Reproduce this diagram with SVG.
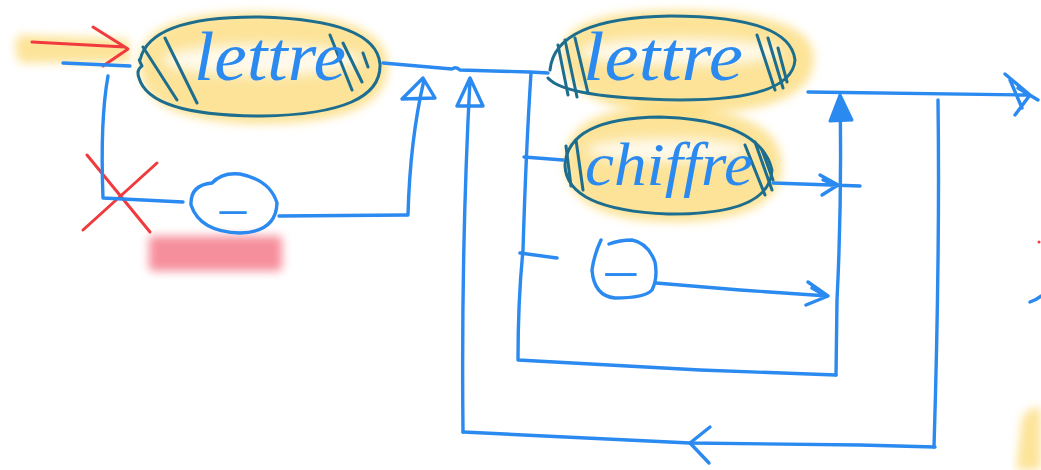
<svg xmlns="http://www.w3.org/2000/svg" width="1041" height="470" viewBox="0 0 1041 470">
<style>
.ln{fill:none;stroke:#2b8af0;stroke-width:3.4;stroke-linecap:round;stroke-linejoin:round}
.ol{fill:none;stroke:#1d6d8e;stroke-width:3;stroke-linecap:round;stroke-linejoin:round}
.red{fill:none;stroke:#f03a3e;stroke-width:3;stroke-linecap:round;stroke-linejoin:round}
.hl{fill:#fbd35a;opacity:0.62;filter:url(#blur)}
.hw{fill:#ffffff;opacity:0.8;filter:url(#blur2)}
.lbl{font-family:"Liberation Serif",serif;font-style:italic;fill:#2b8af0}
.us{font-family:"Liberation Sans",sans-serif;fill:#2b8af0}
</style>
<defs>
<filter id="blur" x="-20%" y="-30%" width="140%" height="160%"><feGaussianBlur stdDeviation="5"/></filter>
<filter id="blur2" x="-20%" y="-80%" width="140%" height="260%"><feGaussianBlur stdDeviation="6"/></filter>
</defs>

<g id="annotations">
<path d="M18,35 L128,39 L130,62 L20,63 Q12,50 18,35 Z" class="hl"/>
<rect x="149" y="236" width="133" height="35" rx="4" fill="#f47c8a" opacity="0.85" filter="url(#blur)"/>
<path d="M1016,470 L1022,418 Q1030,405 1041,408 L1041,470 Z" class="hl"/>
<path class="red" d="M32,42 L125,47 M93,27 L128,49 L103,66"/>
<path class="red" d="M87,155 L150,232 M157,163 L83,230"/>
<circle cx="1039" cy="242" r="1.5" fill="#f03a3e"/>
<path class="ln" d="M1030,302 Q1036,300 1041,296"/>
</g>

<g id="node-lettre-1">
<path d="M140,66 Q135,12 258,12 Q390,14 388,68 Q386,124 258,124 Q140,122 140,66 Z" class="hl"/>
<ellipse cx="262" cy="60" rx="100" ry="16" class="hw"/>
<path class="ol" d="M140,60 Q150,16 260,17 Q376,20 380,64 Q382,114 262,116 Q150,116 139,78 Q136,70 142,66 Q138,58 140,60"/>
<path class="ol" d="M143,47 L177,100 M165,38 L197,103 M330,35 L352,90 M343,43 L362,82 M363,53 L368,67"/>
<text class="lbl" x="194" y="80" font-size="70" textLength="152" lengthAdjust="spacingAndGlyphs">lettre</text>
</g>

<g id="node-underscore-1">
<path class="ln" d="M212,183 Q222,172 240,174 Q270,180 277,203 Q276,232 240,233 Q200,232 191,205 Q190,185 212,183"/>
<text class="us" x="220" y="205" font-size="44" textLength="26" lengthAdjust="spacingAndGlyphs">_</text>
</g>

<g id="node-lettre-2">
<path d="M562,55 Q560,10 680,10 Q817,12 814,60 Q812,114 682,114 Q565,112 562,55 Z" class="hl"/>
<ellipse cx="680" cy="52" rx="102" ry="14" class="hw"/>
<path class="ol" d="M550,70 Q555,18 670,16 Q790,16 795,60 Q792,100 680,100 Q565,98 548,78"/>
<path class="ol" d="M558,45 L568,95 M565,40 L577,97 M575,38 L588,93 M757,35 L775,90 M768,38 L783,88 M778,48 L787,82"/>
<text class="lbl" x="583" y="80" font-size="70" textLength="160" lengthAdjust="spacingAndGlyphs">lettre</text>
</g>

<g id="node-chiffre">
<path d="M565,165 Q563,106 668,106 Q784,110 782,168 Q780,222 670,222 Q568,220 565,165 Z" class="hl"/>
<ellipse cx="668" cy="150" rx="82" ry="12" class="hw"/>
<path class="ol" d="M565,165 Q568,118 660,117 Q760,120 772,170 Q770,215 668,214 Q566,210 565,165"/>
<path class="ol" d="M566,146 L571,186 M576,140 L583,190 M745,145 L765,195 M755,142 L772,190 M762,150 L773,180"/>
<text class="lbl" x="585" y="185" font-size="62" textLength="168" lengthAdjust="spacingAndGlyphs">chiffre</text>
</g>

<g id="node-underscore-2">
<path class="ln" d="M601,240 Q594,255 592,270 Q594,296 615,298 Q645,298 652,290 Q658,278 655,262 Q648,243 632,240 Q620,240 609,244"/>
<text class="us" x="606" y="267" font-size="46" textLength="30" lengthAdjust="spacingAndGlyphs">_</text>
</g>

<g id="connectors">
<path class="ln" d="M63,63 L130,66"/>
<path class="ln" d="M108,76 Q100,120 103,198 L183,202"/>
<path class="ln" d="M279,216 L407,215"/>
<path class="ln" d="M408,215 Q410,140 424,80 M402,99 L435,98 L423,78 L402,99"/>
<path class="ln" d="M383,63 L452,69 Q456,66 460,70 L530,72 L548,73"/>
<path class="ln" d="M463,432 Q461,250 470,80 M457,106 L483,106 L470,78 Z"/>
<path class="ln" d="M531,73 Q526,150 523,250 Q518,300 518,360 L700,370 L836,375"/>
<path class="ln" d="M524,157 L563,160"/>
<path class="ln" d="M520,253 L557,258"/>
<path class="ln" d="M656,283 L740,290 L828,296 M808,282 L828,296 L806,305 M812,288 L826,296"/>
<path class="ln" d="M773,183 L860,186 M820,175 L838,185 L822,195 M823,180 L836,185"/>
<path class="ln" d="M840,96 Q842,200 837,300 L836,375"/>
<path d="M840,95 L830,121 L852,120 Z" fill="#2b8af0" stroke="#2b8af0" stroke-width="3" stroke-linejoin="round"/>
<path class="ln" d="M808,92 L1030,95 M1005,74 L1030,95 L1015,115 M1010,80 L1022,108 M1018,88 L1038,100"/>
<path class="ln" d="M938,100 Q940,250 934,447"/>
<path class="ln" d="M935,447 L860,445 L690,443 L463,432"/>
<path class="ln" d="M710,427 L690,443 L709,463"/>
</g>
</svg>
